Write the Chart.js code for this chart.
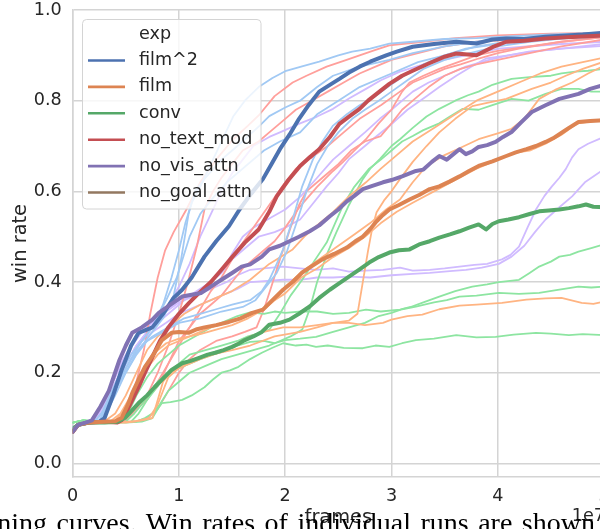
<!DOCTYPE html>
<html>
<head>
<meta charset="utf-8">
<script src="https://cdn.jsdelivr.net/npm/chart.js@4.4.1/dist/chart.umd.min.js"></script>
<style>
  html, body { margin: 0; padding: 0; background: #ffffff; width: 600px; height: 529px; overflow: hidden; }
  #wrap { position: absolute; left: 0; top: 0; width: 620px; height: 529px; }
  #caption { position: absolute; left: -54px; top: 509px; font-family: "Liberation Serif", "DejaVu Serif", serif; font-size: 28px; line-height: 28px; word-spacing: 2.5px; white-space: nowrap; color: #000; }
</style>
</head>
<body>
<div id="wrap"><canvas id="c" width="620" height="529"></canvas></div>
<div id="caption">Learning curves. Win rates of individual runs are shown</div>
<script>
// ---------------- data (x in units of 1e7 frames, y = win rate) ----------------
const xTicks = [0, 1, 2, 3, 4, 5];
const yTicks = [0.0, 0.2, 0.4, 0.6, 0.8, 1.0];
const legendTitle = 'exp';
const experiments = ['film^2', 'film', 'conv', 'no_text_mod', 'no_vis_attn', 'no_goal_attn'];

// mean curves (thick lines)
const film2Mean = [[0,0.07],[0.05,0.085],[0.15,0.09],[0.25,0.092],[0.3,0.1],[0.38,0.15],[0.46,0.206],[0.55,0.26],[0.62,0.288],[0.75,0.30],[0.85,0.33],[0.95,0.365],[1.03,0.383],[1.12,0.41],[1.24,0.456],[1.35,0.49],[1.47,0.523],[1.57,0.56],[1.68,0.595],[1.79,0.627],[1.87,0.66],[1.95,0.693],[2.04,0.725],[2.13,0.76],[2.22,0.79],[2.32,0.82],[2.42,0.835],[2.51,0.848],[2.6,0.862],[2.70,0.875],[2.8,0.886],[2.95,0.90],[3.05,0.908],[3.2,0.919],[3.4,0.925],[3.61,0.93],[3.8,0.926],[3.95,0.935],[4.08,0.937],[4.25,0.936],[4.45,0.941],[4.65,0.944],[4.8,0.946],[5.0,0.95]];
const filmMean = [[0,0.07],[0.05,0.085],[0.15,0.09],[0.3,0.092],[0.4,0.093],[0.46,0.10],[0.52,0.13],[0.56,0.155],[0.62,0.185],[0.68,0.213],[0.77,0.244],[0.84,0.272],[0.93,0.288],[1.0,0.29],[1.09,0.288],[1.17,0.296],[1.24,0.30],[1.35,0.305],[1.47,0.312],[1.58,0.32],[1.69,0.332],[1.79,0.339],[1.88,0.36],[1.98,0.383],[2.07,0.4],[2.16,0.421],[2.25,0.435],[2.35,0.45],[2.46,0.462],[2.58,0.476],[2.66,0.49],[2.73,0.50],[2.8,0.517],[2.86,0.534],[2.92,0.548],[2.98,0.56],[3.07,0.57],[3.17,0.582],[3.26,0.592],[3.36,0.605],[3.45,0.611],[3.55,0.622],[3.64,0.633],[3.73,0.645],[3.82,0.656],[3.95,0.666],[4.08,0.678],[4.17,0.686],[4.27,0.693],[4.36,0.7],[4.45,0.709],[4.52,0.717],[4.58,0.726],[4.67,0.74],[4.76,0.753],[4.87,0.755],[5.0,0.757]];
const convMean = [[0,0.075],[0.05,0.085],[0.15,0.09],[0.3,0.09],[0.42,0.092],[0.49,0.10],[0.55,0.115],[0.62,0.133],[0.7,0.15],[0.77,0.168],[0.85,0.187],[0.93,0.206],[1.03,0.221],[1.11,0.226],[1.19,0.233],[1.27,0.24],[1.34,0.244],[1.42,0.25],[1.50,0.257],[1.56,0.264],[1.62,0.272],[1.70,0.28],[1.78,0.29],[1.85,0.306],[1.95,0.31],[2.04,0.317],[2.13,0.33],[2.23,0.346],[2.32,0.365],[2.42,0.383],[2.5,0.396],[2.60,0.412],[2.7,0.428],[2.79,0.443],[2.88,0.455],[2.98,0.465],[3.07,0.47],[3.17,0.472],[3.26,0.483],[3.36,0.49],[3.45,0.498],[3.55,0.505],[3.64,0.512],[3.73,0.52],[3.82,0.527],[3.89,0.516],[3.95,0.528],[4.01,0.534],[4.1,0.538],[4.20,0.543],[4.3,0.55],[4.39,0.556],[4.48,0.558],[4.58,0.56],[4.67,0.563],[4.76,0.567],[4.83,0.571],[4.9,0.566],[5.0,0.565]];
const noTextMean = [[0,0.07],[0.05,0.085],[0.15,0.09],[0.3,0.092],[0.42,0.09],[0.46,0.095],[0.52,0.12],[0.62,0.168],[0.68,0.2],[0.75,0.235],[0.82,0.27],[0.9,0.30],[1.0,0.33],[1.1,0.355],[1.19,0.376],[1.3,0.4],[1.40,0.427],[1.5,0.455],[1.62,0.487],[1.75,0.516],[1.85,0.555],[1.92,0.589],[2.03,0.625],[2.14,0.656],[2.23,0.675],[2.32,0.693],[2.42,0.72],[2.51,0.749],[2.6,0.765],[2.70,0.782],[2.78,0.8],[2.86,0.815],[2.98,0.837],[3.1,0.855],[3.2,0.866],[3.35,0.882],[3.5,0.897],[3.61,0.904],[3.8,0.9],[3.95,0.918],[4.08,0.93],[4.25,0.932],[4.45,0.937],[4.65,0.94],[5.0,0.944]];
const noVisMean = [[0,0.07],[0.05,0.085],[0.12,0.09],[0.18,0.095],[0.26,0.125],[0.34,0.16],[0.44,0.228],[0.5,0.26],[0.56,0.288],[0.65,0.30],[0.75,0.317],[0.81,0.332],[0.92,0.35],[1.03,0.368],[1.12,0.372],[1.21,0.376],[1.3,0.39],[1.40,0.405],[1.5,0.42],[1.59,0.434],[1.67,0.439],[1.78,0.456],[1.85,0.472],[1.95,0.48],[2.04,0.49],[2.13,0.5],[2.23,0.512],[2.32,0.525],[2.42,0.545],[2.5,0.56],[2.58,0.578],[2.65,0.59],[2.73,0.605],[2.82,0.612],[2.92,0.62],[3.0,0.625],[3.1,0.633],[3.23,0.645],[3.3,0.648],[3.38,0.665],[3.45,0.678],[3.52,0.67],[3.64,0.693],[3.70,0.682],[3.76,0.688],[3.82,0.698],[3.9,0.702],[3.98,0.709],[4.05,0.72],[4.13,0.731],[4.22,0.752],[4.32,0.775],[4.45,0.79],[4.58,0.804],[4.68,0.81],[4.76,0.815],[4.87,0.826],[5.0,0.835]];
const noGoalMean = [];

// individual runs (thin lines)
const film2Run1 = [[0,0.08],[0.1,0.09],[0.2,0.092],[0.27,0.11],[0.35,0.15],[0.45,0.2],[0.55,0.24],[0.65,0.27],[0.75,0.3],[0.85,0.35],[0.93,0.41],[1.0,0.47],[1.06,0.53],[1.12,0.575],[1.2,0.61],[1.28,0.65],[1.38,0.7],[1.51,0.765],[1.62,0.8],[1.75,0.83],[1.88,0.85],[2.0,0.865],[2.15,0.875],[2.32,0.886],[2.5,0.9],[2.63,0.908],[2.8,0.915],[2.98,0.926],[3.2,0.93],[3.5,0.936],[3.8,0.938],[4.1,0.942],[4.5,0.946],[5.0,0.95]];
const film2Run2 = [[0,0.08],[0.1,0.09],[0.25,0.093],[0.32,0.12],[0.42,0.17],[0.52,0.21],[0.62,0.25],[0.75,0.29],[0.85,0.32],[0.95,0.37],[1.02,0.45],[1.09,0.55],[1.15,0.6],[1.25,0.63],[1.4,0.67],[1.55,0.7],[1.76,0.745],[1.85,0.766],[2.0,0.785],[2.14,0.80],[2.3,0.83],[2.45,0.855],[2.7,0.875],[2.98,0.89],[3.2,0.905],[3.5,0.92],[3.8,0.93],[4.2,0.938],[4.6,0.944],[5.0,0.948]];
const film2Run3 = [[0,0.08],[0.1,0.09],[0.25,0.095],[0.35,0.14],[0.45,0.19],[0.55,0.23],[0.65,0.26],[0.75,0.28],[0.9,0.3],[1.05,0.32],[1.2,0.33],[1.35,0.34],[1.5,0.35],[1.67,0.36],[1.78,0.38],[1.85,0.405],[1.92,0.44],[1.98,0.472],[2.07,0.538],[2.16,0.611],[2.26,0.67],[2.35,0.71],[2.45,0.745],[2.58,0.77],[2.7,0.79],[2.85,0.81],[2.98,0.833],[3.15,0.86],[3.3,0.88],[3.5,0.9],[3.7,0.915],[4.0,0.925],[4.5,0.94],[5.0,0.946]];
const film2Run4 = [[0,0.08],[0.1,0.09],[0.28,0.095],[0.4,0.15],[0.5,0.2],[0.6,0.24],[0.7,0.27],[0.85,0.29],[1.0,0.31],[1.2,0.32],[1.4,0.335],[1.6,0.345],[1.72,0.36],[1.82,0.39],[1.92,0.42],[2.02,0.47],[2.12,0.54],[2.2,0.6],[2.3,0.66],[2.4,0.7],[2.5,0.73],[2.63,0.76],[2.75,0.78],[2.88,0.8],[3.0,0.82],[3.15,0.845],[3.3,0.87],[3.5,0.89],[3.65,0.9],[4.0,0.92],[4.3,0.93],[4.6,0.937],[5.0,0.942]];
const film2Run5 = [[0,0.08],[0.1,0.09],[0.22,0.095],[0.3,0.12],[0.4,0.17],[0.5,0.21],[0.62,0.26],[0.75,0.3],[0.88,0.36],[0.98,0.41],[1.1,0.5],[1.2,0.55],[1.3,0.58],[1.45,0.62],[1.6,0.65],[1.8,0.69],[1.95,0.71],[2.14,0.73],[2.3,0.77],[2.5,0.8],[2.7,0.83],[2.9,0.85],[3.0,0.86],[3.25,0.885],[3.5,0.9],[3.8,0.92],[4.1,0.93],[4.5,0.94],[5.0,0.945]];

const filmRun1 = [[0,0.08],[0.1,0.09],[0.3,0.09],[0.5,0.09],[0.65,0.095],[0.75,0.1],[0.8,0.14],[0.85,0.18],[0.92,0.2],[1.0,0.21],[1.1,0.22],[1.2,0.23],[1.32,0.24],[1.45,0.25],[1.55,0.265],[1.67,0.28],[1.8,0.29],[1.98,0.3],[2.14,0.3],[2.3,0.305],[2.45,0.31],[2.6,0.31],[2.75,0.305],[2.92,0.31],[3.0,0.317],[3.15,0.325],[3.29,0.328],[3.45,0.34],[3.64,0.348],[3.8,0.35],[4.04,0.354],[4.27,0.361],[4.45,0.364],[4.6,0.365],[4.79,0.354],[4.9,0.352],[5.0,0.357]];
const filmRun2 = [[0,0.08],[0.1,0.09],[0.4,0.09],[0.6,0.093],[0.72,0.1],[0.8,0.13],[0.9,0.19],[1.0,0.21],[1.15,0.23],[1.3,0.24],[1.5,0.25],[1.67,0.26],[1.9,0.28],[2.14,0.29],[2.3,0.3],[2.45,0.31],[2.6,0.315],[2.68,0.33],[2.73,0.4],[2.78,0.47],[2.82,0.52],[2.86,0.554],[2.93,0.58],[3.0,0.6],[3.08,0.627],[3.2,0.665],[3.33,0.7],[3.45,0.73],[3.6,0.76],[3.76,0.788],[3.9,0.795],[4.08,0.804],[4.2,0.815],[4.32,0.826],[4.5,0.84],[4.64,0.855],[4.8,0.87],[5.0,0.886]];
const filmRun3 = [[0,0.08],[0.1,0.09],[0.3,0.093],[0.4,0.11],[0.5,0.15],[0.6,0.2],[0.7,0.25],[0.8,0.28],[0.9,0.3],[1.05,0.33],[1.2,0.35],[1.35,0.365],[1.5,0.38],[1.67,0.405],[1.85,0.44],[2.07,0.472],[2.18,0.5],[2.29,0.523],[2.45,0.554],[2.6,0.589],[2.76,0.62],[2.9,0.65],[3.05,0.68],[3.2,0.71],[3.4,0.74],[3.6,0.77],[3.8,0.8],[4.0,0.82],[4.2,0.84],[4.4,0.86],[4.6,0.875],[4.8,0.885],[5.0,0.895]];
const filmRun4 = [[0,0.08],[0.1,0.09],[0.35,0.092],[0.45,0.11],[0.6,0.17],[0.7,0.21],[0.8,0.24],[0.9,0.26],[1.0,0.27],[1.15,0.285],[1.3,0.3],[1.45,0.31],[1.6,0.32],[1.8,0.34],[1.9,0.36],[2.0,0.39],[2.1,0.41],[2.2,0.43],[2.35,0.455],[2.5,0.48],[2.65,0.505],[2.8,0.53],[2.95,0.56],[3.08,0.582],[3.2,0.62],[3.33,0.656],[3.5,0.68],[3.64,0.695],[3.82,0.715],[4.0,0.728],[4.13,0.738],[4.25,0.76],[4.39,0.804],[4.55,0.825],[4.7,0.84],[4.85,0.86],[5.0,0.877]];
const filmRun5 = [[0,0.08],[0.1,0.09],[0.3,0.09],[0.4,0.095],[0.5,0.12],[0.57,0.16],[0.65,0.2],[0.75,0.24],[0.88,0.265],[1.0,0.275],[1.2,0.285],[1.35,0.295],[1.5,0.305],[1.65,0.32],[1.8,0.34],[1.9,0.36],[2.0,0.375],[2.15,0.41],[2.3,0.43],[2.45,0.455],[2.6,0.475],[2.75,0.5],[2.9,0.53],[3.05,0.555],[3.2,0.575],[3.4,0.6],[3.6,0.625],[3.8,0.65],[4.0,0.67],[4.15,0.685],[4.3,0.69],[4.45,0.705],[4.6,0.725],[4.75,0.75],[4.9,0.755],[5.0,0.76]];

const convRun1 = [[0,0.09],[0.1,0.095],[0.3,0.09],[0.5,0.09],[0.65,0.092],[0.75,0.1],[0.8,0.12],[0.84,0.133],[0.92,0.135],[1.03,0.14],[1.12,0.15],[1.24,0.168],[1.32,0.185],[1.4,0.2],[1.48,0.205],[1.56,0.213],[1.67,0.23],[1.78,0.244],[1.88,0.255],[1.98,0.265],[2.1,0.26],[2.2,0.262],[2.29,0.257],[2.4,0.26],[2.55,0.255],[2.73,0.254],[2.85,0.26],[2.98,0.257],[3.1,0.265],[3.23,0.272],[3.4,0.275],[3.61,0.283],[3.8,0.278],[3.98,0.279],[4.15,0.284],[4.36,0.288],[4.5,0.286],[4.67,0.283],[4.8,0.285],[5.0,0.283]];
const convRun2 = [[0,0.09],[0.1,0.095],[0.3,0.09],[0.5,0.092],[0.58,0.11],[0.65,0.13],[0.72,0.155],[0.8,0.18],[0.9,0.2],[1.0,0.21],[1.1,0.22],[1.2,0.23],[1.32,0.24],[1.45,0.25],[1.55,0.26],[1.67,0.268],[1.8,0.27],[1.9,0.265],[2.0,0.272],[2.14,0.275],[2.29,0.279],[2.45,0.29],[2.6,0.3],[2.75,0.31],[2.88,0.325],[3.0,0.332],[3.1,0.34],[3.23,0.346],[3.4,0.355],[3.52,0.36],[3.64,0.368],[3.8,0.37],[4.01,0.376],[4.2,0.374],[4.39,0.376],[4.55,0.382],[4.76,0.39],[4.88,0.388],[5.0,0.39]];
const convRun3 = [[0,0.09],[0.1,0.095],[0.3,0.09],[0.45,0.092],[0.52,0.11],[0.6,0.15],[0.7,0.19],[0.8,0.22],[0.9,0.24],[1.0,0.26],[1.15,0.28],[1.3,0.3],[1.45,0.315],[1.55,0.325],[1.67,0.333],[1.8,0.33],[1.9,0.335],[2.0,0.332],[2.15,0.335],[2.3,0.335],[2.45,0.33],[2.6,0.332],[2.76,0.339],[2.9,0.335],[3.08,0.339],[3.18,0.345],[3.3,0.355],[3.45,0.368],[3.6,0.38],[3.76,0.39],[3.9,0.395],[4.01,0.4],[4.2,0.405],[4.3,0.42],[4.39,0.434],[4.5,0.445],[4.58,0.456],[4.68,0.46],[4.76,0.467],[4.88,0.475],[5.0,0.483]];
const convRun4 = [[0,0.09],[0.1,0.095],[0.3,0.09],[0.55,0.092],[0.62,0.11],[0.7,0.14],[0.8,0.17],[0.9,0.2],[1.0,0.22],[1.1,0.24],[1.25,0.25],[1.4,0.26],[1.55,0.27],[1.65,0.28],[1.75,0.287],[1.85,0.295],[1.95,0.33],[2.05,0.37],[2.16,0.405],[2.27,0.445],[2.39,0.487],[2.47,0.53],[2.54,0.567],[2.65,0.61],[2.79,0.65],[2.9,0.67],[3.0,0.69],[3.1,0.71],[3.2,0.722],[3.3,0.735],[3.45,0.75],[3.55,0.765],[3.67,0.782],[3.82,0.78],[3.95,0.79],[4.13,0.804],[4.29,0.8],[4.45,0.815],[4.6,0.826],[4.76,0.826],[4.88,0.82],[5.0,0.82]];
const convRun5 = [[0,0.09],[0.1,0.095],[0.3,0.09],[0.6,0.092],[0.68,0.1],[0.75,0.11],[0.82,0.13],[0.9,0.16],[1.0,0.18],[1.1,0.2],[1.25,0.215],[1.4,0.23],[1.55,0.24],[1.7,0.25],[1.85,0.26],[1.95,0.27],[2.05,0.28],[2.16,0.295],[2.23,0.34],[2.3,0.4],[2.39,0.46],[2.48,0.509],[2.6,0.57],[2.73,0.627],[2.8,0.65],[2.89,0.671],[3.0,0.7],[3.08,0.715],[3.2,0.74],[3.33,0.765],[3.45,0.782],[3.6,0.8],[3.72,0.812],[3.82,0.82],[3.95,0.835],[4.13,0.848],[4.3,0.852],[4.5,0.855],[4.6,0.86],[4.73,0.864],[4.85,0.866],[5.0,0.87]];

const noTextRun1 = [[0,0.08],[0.1,0.09],[0.3,0.09],[0.45,0.092],[0.52,0.12],[0.6,0.18],[0.67,0.25],[0.73,0.33],[0.8,0.41],[0.87,0.47],[0.95,0.51],[1.07,0.56],[1.2,0.62],[1.35,0.67],[1.51,0.715],[1.65,0.745],[1.76,0.77],[1.9,0.81],[2.07,0.84],[2.2,0.855],[2.39,0.875],[2.55,0.888],[2.7,0.9],[2.85,0.912],[2.98,0.922],[3.3,0.93],[3.6,0.938],[4.0,0.944],[4.5,0.948],[5.0,0.95]];
const noTextRun2 = [[0,0.08],[0.1,0.09],[0.35,0.09],[0.5,0.093],[0.6,0.12],[0.7,0.15],[0.8,0.2],[0.9,0.26],[1.0,0.33],[1.09,0.405],[1.17,0.48],[1.24,0.56],[1.32,0.6],[1.4,0.63],[1.5,0.66],[1.6,0.69],[1.75,0.71],[1.85,0.73],[2.0,0.76],[2.1,0.78],[2.25,0.8],[2.4,0.82],[2.55,0.84],[2.7,0.86],[2.85,0.875],[3.0,0.89],[3.25,0.905],[3.5,0.92],[3.8,0.93],[4.2,0.935],[4.6,0.94],[5.0,0.945]];
const noTextRun3 = [[0,0.08],[0.1,0.09],[0.4,0.09],[0.5,0.095],[0.6,0.12],[0.7,0.14],[0.8,0.18],[0.9,0.22],[1.0,0.26],[1.1,0.3],[1.2,0.34],[1.3,0.38],[1.4,0.41],[1.5,0.45],[1.58,0.48],[1.67,0.51],[1.76,0.54],[1.85,0.57],[1.97,0.61],[2.1,0.65],[2.25,0.675],[2.4,0.7],[2.55,0.73],[2.7,0.76],[2.8,0.775],[2.9,0.79],[3.05,0.815],[3.2,0.84],[3.35,0.855],[3.5,0.87],[3.65,0.88],[3.82,0.893],[4.0,0.905],[4.2,0.915],[4.6,0.93],[5.0,0.94]];
const noTextRun4 = [[0,0.08],[0.1,0.09],[0.4,0.09],[0.6,0.093],[0.7,0.1],[0.8,0.12],[0.9,0.16],[1.0,0.2],[1.1,0.23],[1.2,0.25],[1.35,0.27],[1.5,0.28],[1.62,0.29],[1.73,0.3],[1.8,0.34],[1.87,0.39],[1.95,0.45],[2.05,0.52],[2.13,0.57],[2.2,0.6],[2.35,0.63],[2.5,0.66],[2.62,0.69],[2.75,0.71],[2.9,0.722],[3.0,0.75],[3.1,0.78],[3.2,0.8],[3.35,0.83],[3.5,0.855],[3.65,0.87],[3.8,0.88],[4.0,0.89],[4.2,0.9],[4.6,0.92],[5.0,0.935]];
const noTextRun5 = [[0,0.08],[0.1,0.09],[0.35,0.09],[0.45,0.095],[0.55,0.11],[0.65,0.13],[0.8,0.17],[0.9,0.22],[1.0,0.27],[1.1,0.3],[1.2,0.33],[1.3,0.35],[1.4,0.37],[1.5,0.4],[1.6,0.43],[1.7,0.45],[1.8,0.47],[1.9,0.49],[2.0,0.52],[2.14,0.567],[2.3,0.61],[2.45,0.645],[2.54,0.664],[2.65,0.69],[2.76,0.715],[2.88,0.75],[3.0,0.78],[3.1,0.82],[3.17,0.84],[3.3,0.855],[3.45,0.87],[3.64,0.886],[3.8,0.9],[4.0,0.91],[4.3,0.92],[4.6,0.93],[5.0,0.94]];

const noVisRun1 = [[0,0.08],[0.1,0.09],[0.18,0.092],[0.25,0.12],[0.32,0.15],[0.4,0.19],[0.48,0.23],[0.56,0.26],[0.65,0.29],[0.75,0.31],[0.85,0.33],[1.0,0.355],[1.15,0.37],[1.3,0.385],[1.45,0.4],[1.55,0.415],[1.67,0.427],[1.8,0.43],[1.98,0.434],[2.14,0.43],[2.29,0.427],[2.45,0.43],[2.6,0.423],[2.75,0.425],[2.92,0.427],[3.08,0.432],[3.2,0.425],[3.36,0.427],[3.5,0.43],[3.64,0.434],[3.78,0.438],[3.9,0.44],[4.04,0.45],[4.12,0.46],[4.2,0.478],[4.28,0.52],[4.36,0.56],[4.44,0.59],[4.51,0.611],[4.58,0.63],[4.64,0.649],[4.7,0.675],[4.76,0.693],[4.85,0.705],[5.0,0.72]];
const noVisRun2 = [[0,0.08],[0.1,0.09],[0.2,0.092],[0.28,0.11],[0.36,0.15],[0.45,0.19],[0.55,0.23],[0.65,0.27],[0.75,0.29],[0.88,0.31],[1.0,0.33],[1.15,0.345],[1.3,0.36],[1.45,0.375],[1.55,0.385],[1.67,0.4],[1.8,0.402],[1.98,0.405],[2.14,0.405],[2.3,0.41],[2.45,0.41],[2.6,0.412],[2.8,0.41],[3.0,0.415],[3.2,0.418],[3.36,0.42],[3.55,0.424],[3.7,0.427],[3.85,0.432],[4.01,0.44],[4.13,0.456],[4.25,0.48],[4.35,0.51],[4.45,0.538],[4.58,0.565],[4.7,0.589],[4.82,0.62],[5.0,0.649]];
const noVisRun3 = [[0,0.08],[0.1,0.09],[0.2,0.093],[0.28,0.13],[0.36,0.17],[0.45,0.22],[0.55,0.26],[0.65,0.29],[0.78,0.32],[0.9,0.35],[1.0,0.39],[1.1,0.44],[1.2,0.5],[1.3,0.55],[1.4,0.6],[1.5,0.64],[1.6,0.67],[1.7,0.7],[1.85,0.72],[1.95,0.73],[2.14,0.75],[2.3,0.765],[2.45,0.782],[2.6,0.805],[2.76,0.826],[2.9,0.845],[3.08,0.864],[3.3,0.88],[3.55,0.893],[3.8,0.905],[4.01,0.915],[4.3,0.92],[4.6,0.925],[5.0,0.93]];
const noVisRun4 = [[0,0.08],[0.1,0.09],[0.2,0.093],[0.3,0.12],[0.4,0.17],[0.5,0.22],[0.6,0.26],[0.7,0.29],[0.8,0.31],[0.9,0.33],[1.0,0.35],[1.1,0.37],[1.2,0.385],[1.3,0.4],[1.4,0.42],[1.5,0.45],[1.6,0.47],[1.75,0.5],[1.9,0.51],[2.0,0.52],[2.14,0.538],[2.25,0.57],[2.39,0.611],[2.5,0.64],[2.6,0.671],[2.75,0.7],[2.85,0.72],[2.98,0.744],[3.15,0.78],[3.33,0.81],[3.45,0.83],[3.61,0.855],[3.75,0.875],[3.89,0.893],[4.1,0.9],[4.32,0.908],[4.6,0.915],[5.0,0.921]];
const noVisRun5 = [[0,0.08],[0.1,0.09],[0.2,0.092],[0.3,0.13],[0.38,0.17],[0.45,0.2],[0.6,0.26],[0.7,0.29],[0.8,0.32],[0.9,0.34],[1.0,0.36],[1.1,0.37],[1.2,0.38],[1.3,0.4],[1.43,0.434],[1.52,0.47],[1.6,0.5],[1.7,0.52],[1.85,0.54],[2.0,0.56],[2.15,0.59],[2.3,0.63],[2.45,0.67],[2.6,0.7],[2.75,0.73],[2.89,0.76],[3.0,0.78],[3.2,0.82],[3.35,0.84],[3.5,0.855],[3.7,0.875],[3.92,0.89],[4.1,0.9],[4.29,0.908],[4.6,0.915],[5.0,0.925]];

// ---------------- styling ----------------
const deep   = { 'film^2':'#4c72b0', 'film':'#dd8452', 'conv':'#55a868', 'no_text_mod':'#c44e52', 'no_vis_attn':'#8172b3', 'no_goal_attn':'#937860' };
const pastel = { 'film^2':'#a1c9f4', 'film':'#ffb482', 'conv':'#8de5a1', 'no_text_mod':'#ff9f9b', 'no_vis_attn':'#d0bbff', 'no_goal_attn':'#debb9b' };
const TXT = '#262626';
const GRID = '#d4d4d4';
const FONT = '"DejaVu Sans", sans-serif';

const runs = {
  'film^2': [film2Run1, film2Run2, film2Run3, film2Run4, film2Run5],
  'film': [filmRun1, filmRun2, filmRun3, filmRun4, filmRun5],
  'conv': [convRun1, convRun2, convRun3, convRun4, convRun5],
  'no_text_mod': [noTextRun1, noTextRun2, noTextRun3, noTextRun4, noTextRun5],
  'no_vis_attn': [noVisRun1, noVisRun2, noVisRun3, noVisRun4, noVisRun5],
  'no_goal_attn': []
};
const means = { 'film^2': film2Mean, 'film': filmMean, 'conv': convMean, 'no_text_mod': noTextMean, 'no_vis_attn': noVisMean, 'no_goal_attn': noGoalMean };

const toXY = arr => arr.map(p => ({ x: p[0], y: p[1] }));
const datasets = [];
experiments.forEach(name => {
  runs[name].forEach((r, i) => {
    datasets.push({ label: name + ' run ' + (i + 1), data: toXY(r), borderColor: pastel[name], borderWidth: 1.8, order: 2 });
  });
});
['no_vis_attn', 'film', 'conv', 'no_text_mod', 'film^2', 'no_goal_attn'].forEach(name => {
  datasets.push({ label: name, data: toXY(means[name]), borderColor: deep[name], borderWidth: 4, order: 1 });
});

const legendPlugin = {
  id: 'sbLegend',
  afterDatasetsDraw(chart) {
    const ctx = chart.ctx;
    ctx.save();
    const x0 = 82.5, y0 = 19.5, w = 178.5, h = 189.5, r = 4;
    ctx.beginPath();
    ctx.moveTo(x0 + r, y0);
    ctx.arcTo(x0 + w, y0, x0 + w, y0 + h, r);
    ctx.arcTo(x0 + w, y0 + h, x0, y0 + h, r);
    ctx.arcTo(x0, y0 + h, x0, y0, r);
    ctx.arcTo(x0, y0, x0 + w, y0, r);
    ctx.closePath();
    ctx.fillStyle = 'rgba(255,255,255,0.8)';
    ctx.fill();
    ctx.strokeStyle = GRID;
    ctx.lineWidth = 1;
    ctx.stroke();
    ctx.font = '17.6px ' + FONT;
    ctx.fillStyle = TXT;
    ctx.textBaseline = 'middle';
    ctx.textAlign = 'left';
    ctx.fillText(legendTitle, 139, 34);
    experiments.forEach((name, i) => {
      const y = 60.5 + i * 26.4;
      ctx.beginPath();
      ctx.moveTo(88, y);
      ctx.lineTo(125, y);
      ctx.strokeStyle = deep[name];
      ctx.lineWidth = 2.6;
      ctx.stroke();
      ctx.fillStyle = TXT;
      ctx.fillText(name, 139, y);
    });
    ctx.restore();
  },
  afterDraw(chart) {
    const ctx = chart.ctx;
    ctx.save();
    ctx.font = '17.6px ' + FONT;
    ctx.fillStyle = TXT;
    ctx.textAlign = 'right';
    ctx.textBaseline = 'alphabetic';
    ctx.fillText('1e7', chart.chartArea.right + 1, 521);
    ctx.restore();
  }
};

Chart.defaults.font.family = FONT;
Chart.defaults.color = TXT;

new Chart(document.getElementById('c'), {
  type: 'line',
  data: { datasets },
  options: {
    responsive: false,
    animation: false,
    devicePixelRatio: 1,
    elements: {
      point: { radius: 0 },
      line: { tension: 0, borderJoinStyle: 'round', borderCapStyle: 'round', fill: false }
    },
    layout: { padding: { left: 0, right: 16, top: 10, bottom: 0 } },
    plugins: { legend: { display: false }, tooltip: { enabled: false } },
    scales: {
      x: {
        type: 'linear', min: 0, max: 5,
        afterBuildTicks: axis => { axis.ticks = xTicks.map(v => ({ value: v })); },
        afterFit: axis => { axis.height = 52; axis.paddingLeft = 0; axis.paddingRight = 0; },
        ticks: { font: { size: 17.6 }, color: TXT, padding: 9, callback: v => String(v) },
        grid: { color: GRID, lineWidth: 1.5, drawTicks: false },
        border: { display: true, color: GRID, width: 1.5 },
        title: { display: true, text: 'frames', font: { size: 19.4 }, color: TXT, padding: { top: 0, bottom: -1 } }
      },
      y: {
        type: 'linear', min: -0.03, max: 1.0,
        afterBuildTicks: axis => { axis.ticks = yTicks.map(v => ({ value: v })); },
        afterFit: axis => { axis.width = 72.7; axis.paddingTop = 0; axis.paddingBottom = 0; },
        ticks: { font: { size: 17.6 }, color: TXT, padding: 11, callback: v => Number(v).toFixed(1) },
        grid: { color: GRID, lineWidth: 1.5, drawTicks: false },
        border: { display: true, color: GRID, width: 1.5 },
        title: { display: true, text: 'win rate', font: { size: 19.4 }, color: TXT, padding: { top: 9, bottom: 4 } }
      }
    }
  },
  plugins: [legendPlugin]
});
</script>
</body>
</html>
